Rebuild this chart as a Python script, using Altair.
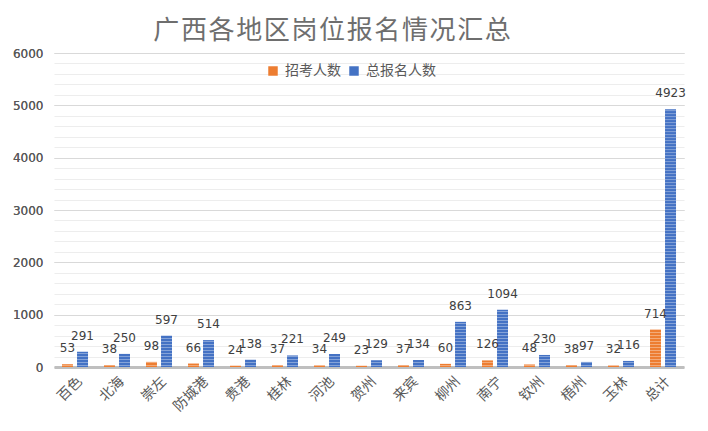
import altair as alt
import pandas as pd

regions = ["百色", "北海", "崇左", "防城港", "贵港", "桂林", "河池", "贺州",
           "来宾", "柳州", "南宁", "钦州", "梧州", "玉林", "总计"]
recruit = [53, 38, 98, 66, 24, 37, 34, 23, 37, 60, 126, 48, 38, 32, 714]
applicants = [291, 250, 597, 514, 138, 221, 249, 129, 134, 863, 1094, 230, 97, 116, 4923]
series = ["招考人数", "总报名人数"]
colors = ["#ED7D31", "#4472C4"]
major_ticks = [0, 1000, 2000, 3000, 4000, 5000, 6000]
minor_ticks = [v for v in range(0, 6001, 200) if v % 1000 != 0]
title_text = "\u200a".join("广西各地区岗位报名情况汇总")

rows = []
for r, a, b in zip(regions, recruit, applicants):
    rows.append({"region": r, "series": series[0], "value": a})
    rows.append({"region": r, "series": series[1], "value": b})
df = pd.DataFrame(rows)

x = alt.X("region:N", sort=regions, title=None,
          scale=alt.Scale(paddingInner=0.38, paddingOuter=0.19),
          axis=alt.Axis(labelAngle=-45, labelFontSize=14, labelColor="#595959",
                        labelFont="Noto Sans CJK SC", ticks=False,
                        domainColor="#BFBFBF", domainWidth=3, labelPadding=7))
xo = alt.XOffset("series:N", sort=series, scale=alt.Scale(paddingInner=0.27))
yscale = alt.Scale(domain=[0, 6000], nice=False)
y_major = alt.Y("value:Q", title=None, scale=yscale,
                axis=alt.Axis(values=major_ticks, format="d", ticks=False, domain=False,
                              grid=True, gridColor="#D9D9D9", labelFontSize=12,
                              labelColor="#595959", labelFont="DejaVu Sans",
                              labelPadding=11, orient="left"))
y_minor = alt.Y("s:Q", title=None, scale=yscale,
                axis=alt.Axis(values=minor_ticks, labels=False, ticks=False, domain=False,
                              grid=True, gridColor="#EDEDED", orient="left"))
color = alt.Color("series:N", sort=series,
                  scale=alt.Scale(domain=series, range=colors),
                  legend=alt.Legend(title=None, orient="none", legendX=212, legendY=11,
                                    direction="horizontal", symbolType="square",
                                    symbolSize=90, symbolStrokeWidth=0,
                                    labelFontSize=14, labelColor="#595959",
                                    labelFont="Noto Sans CJK SC", labelOffset=5,
                                    columnPadding=6))

base = alt.Chart(df)

bars = base.mark_bar(opacity=1).encode(x=x, xOffset=xo, y=y_major, color=color)

stripes = base.transform_calculate(
    s="sequence(28.65, datum.value, 57.3)"
).transform_flatten(["s"]).mark_tick(
    orient="horizontal", size=11, thickness=1, color="white", opacity=0.35
).encode(x=x, xOffset=xo, y=y_minor)

labels = base.mark_text(dy=-12, baseline="alphabetic", fontSize=12,
                        font="DejaVu Sans", color="#404040").encode(
    x=x, xOffset=xo, y=y_major, text=alt.Text("value:Q", format="d"))

chart = alt.layer(bars, stripes, labels).resolve_axis(y="independent").properties(
    width=630, height=314,
    autosize="none",
    padding={"left": 46, "top": 45, "right": 16, "bottom": 55},
    title=alt.TitleParams(title_text, fontSize=26,
                          font="Noto Sans CJK SC", fontWeight="normal",
                          color="#6E6E6E", anchor="middle", dx=-37, offset=3),
).configure_view(stroke=None)

chart.save("out.html", embed_options={"renderer": "svg", "actions": False})
